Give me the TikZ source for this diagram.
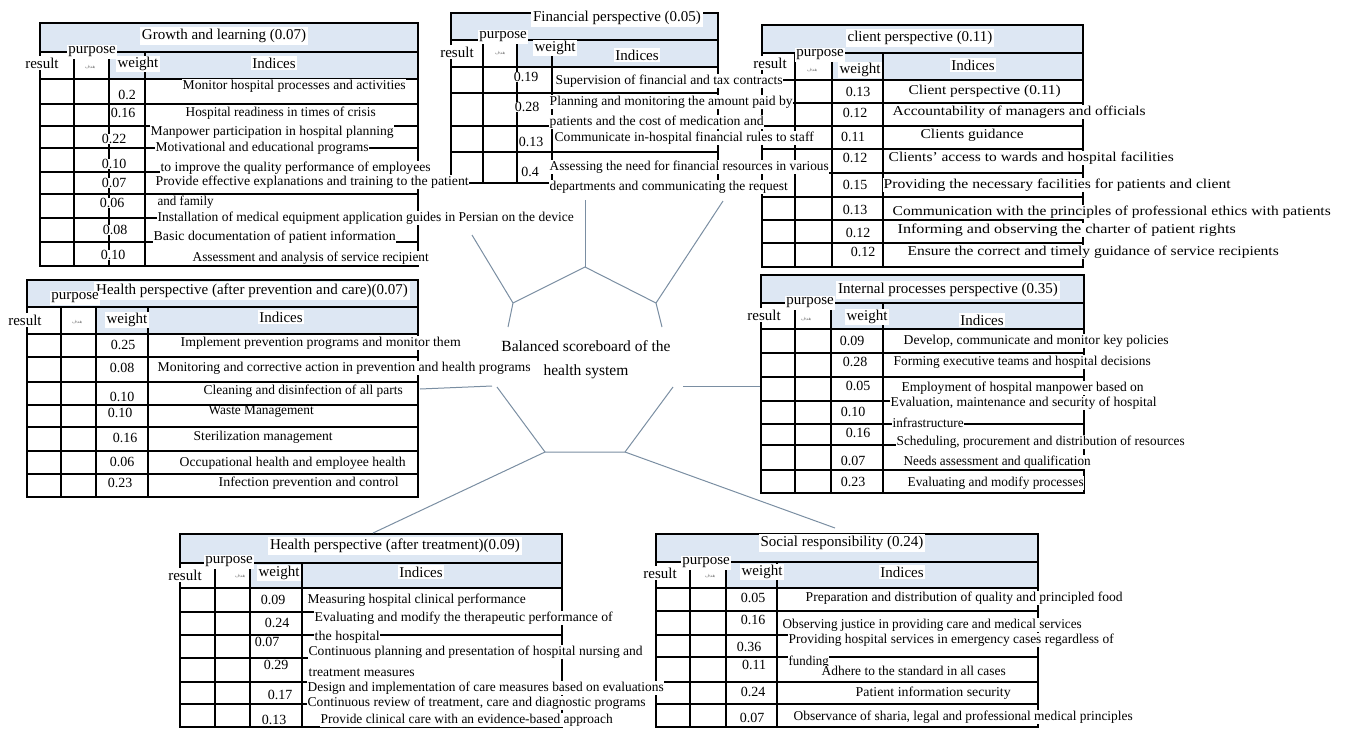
\documentclass[tikz,border=0pt]{standalone}
\usepackage{fontspec}
\usepackage{graphicx}
\setmainfont{Liberation Serif}
\newfontfamily\arabicfont[Script=Arabic]{DejaVu Sans}
\TeXXeTstate=1
\definecolor{bandblue}{RGB}{221,231,243}
\definecolor{spokegray}{RGB}{122,142,162}
\newcommand{\fitw}[2]{\resizebox{#1pt}{\height}{#2}}
\tikzset{
  gridline/.style={line width=1.6pt},
  bandfill/.style={fill=bandblue},
  tabtitle/.style={fill=white, inner sep=2pt, font=\fontsize{15}{16}\selectfont},
  colhead/.style={fill=white, inner sep=1.5pt, font=\fontsize{15}{16}\selectfont},
  wval/.style={fill=white, inner sep=0.5pt, font=\fontsize{14}{15}\selectfont},
  idx/.style={anchor=west, fill=white, inner sep=0.5pt, font=\fontsize{13.5}{14}\selectfont},
  goal/.style={inner sep=0pt, text=gray, font=\arabicfont\fontsize{5}{5}\selectfont},
  spoke/.style={draw=spokegray, line width=1pt},
  hub/.style={align=center, font=\fontsize{15.5}{24}\selectfont}
}
\begin{document}
\begin{tikzpicture}[x=1pt,y=-1pt]
\useasboundingbox (0,0) rectangle (1346,729);

% ---- table frames ----
% growth and learning
\fill[bandfill] (40,23) rectangle (418,52);
\fill[bandfill] (109,52) rectangle (418,79);
\draw[gridline] (40,23) rectangle (418,266) (40,52) -- (418,52);
\foreach \x in {74,109,145} \draw[gridline] (\x,52) -- (\x,266);
\foreach \y in {79,104,126,148,172,194,218,242} \draw[gridline] (40,\y) -- (418,\y);
% financial
\fill[bandfill] (451,13) rectangle (718,40);
\fill[bandfill] (517,40) rectangle (718,67);
\draw[gridline] (451,13) rectangle (718,183) (451,40) -- (718,40);
\foreach \x in {483,517,552} \draw[gridline] (\x,40) -- (\x,183);
\foreach \y in {67,93,126,152} \draw[gridline] (451,\y) -- (718,\y);
% client
\fill[bandfill] (762,25) rectangle (1083,53);
\fill[bandfill] (832,53) rectangle (1083,80);
\draw[gridline] (762,25) rectangle (1083,267) (762,53) -- (1083,53);
\foreach \x in {795,832,883} \draw[gridline] (\x,53) -- (\x,267);
\foreach \y in {80,103,126,149,173,197,220,243} \draw[gridline] (762,\y) -- (1083,\y);
% health after prevention and care
\fill[bandfill] (27,280) rectangle (418,307);
\fill[bandfill] (96,307) rectangle (418,334);
\draw[gridline] (27,280) rectangle (418,497) (27,307) -- (418,307);
\foreach \x in {61,96,148} \draw[gridline] (\x,307) -- (\x,497);
\foreach \y in {334,357,382,405,427,451,474} \draw[gridline] (27,\y) -- (418,\y);
% internal processes
\fill[bandfill] (761,275) rectangle (1084,303);
\fill[bandfill] (831,303) rectangle (1084,329);
\draw[gridline] (761,275) rectangle (1084,493) (761,303) -- (1084,303);
\foreach \x in {795,831,883} \draw[gridline] (\x,303) -- (\x,493);
\foreach \y in {329,353,377,401,424,445,470} \draw[gridline] (761,\y) -- (1084,\y);
% health after treatment
\fill[bandfill] (180,534) rectangle (562,563);
\fill[bandfill] (250,563) rectangle (562,588);
\draw[gridline] (180,534) rectangle (562,727) (180,563) -- (562,563);
\foreach \x in {215,250,302} \draw[gridline] (\x,563) -- (\x,727);
\foreach \y in {588,612,635,658,682,704} \draw[gridline] (180,\y) -- (562,\y);
% social responsibility
\fill[bandfill] (656,534) rectangle (1038,562);
\fill[bandfill] (726,562) rectangle (1038,588);
\draw[gridline] (656,534) rectangle (1038,727) (656,562) -- (1038,562);
\foreach \x in {690,726,777} \draw[gridline] (\x,562) -- (\x,727);
\foreach \y in {588,611,635,657,682,704} \draw[gridline] (656,\y) -- (1038,\y);

% ---- centre ----
\node[hub] (hub) at (586,360) {Balanced scoreboard of the\\health system};
\coordinate (vA) at (585,267);
\coordinate (vB) at (513,303);
\coordinate (vC) at (656,303);
\coordinate (gB) at (508,327);
\coordinate (gC) at (662,327);
\coordinate (gL) at (497,387);
\coordinate (gR) at (673,387);
\coordinate (vD) at (545,452);
\coordinate (vE) at (625,452);
\coordinate (sA) at (585,200);
\coordinate (sB) at (472,235);
\coordinate (sC) at (723,201);
\coordinate (sL) at (420,389);
\coordinate (eL) at (492,386);
\coordinate (eR) at (683,386);
\coordinate (sR) at (760,386);
\coordinate (sD) at (373,533);
\coordinate (sE) at (835,528);
\draw[spoke] (gB) -- (vB) -- (vA) -- (vC) -- (gC);
\draw[spoke] (gL) -- (vD) -- (vE) -- (gR);
\draw[spoke] (vA) -- (sA);
\draw[spoke] (vB) -- (sB);
\draw[spoke] (vC) -- (sC);
\draw[spoke] (vD) -- (sD);
\draw[spoke] (vE) -- (sE);
\draw[spoke] (sL) -- (eL);
\draw[spoke] (eR) -- (sR);

% ---- growth and learning ----
\node[tabtitle] (gl-title) at (224,36) {Growth and learning (0.07)};
\node[colhead] (gl-res) at (42,63) {result};
\node[colhead] (gl-pur) at (92,52) {purpose};
\node[goal] (gl-goal) at (90,67) {\beginR هدف\endR};
\node[colhead] (gl-wt) at (138,64) {weight};
\node[colhead] (gl-ind) at (274,63) {Indices};
\node[wval] (gl-w1) at (127,95) {0.2};
\node[wval] (gl-w2) at (123,113) {0.16};
\node[wval] (gl-w3) at (114,139) {0.22};
\node[wval] (gl-w4) at (114,164) {0.10};
\node[wval] (gl-w5) at (114,183) {0.07};
\node[wval] (gl-w6) at (112,203) {0.06};
\node[wval] (gl-w7) at (115,230) {0.08};
\node[wval] (gl-w8) at (113,255) {0.10};
\node[idx] (gl-i1) at (182,86) {\fitw{223}{Monitor hospital processes and activities}};
\node[idx] (gl-i2) at (185,113) {\fitw{190}{Hospital readiness in times of crisis}};
\node[idx] (gl-i3) at (150,132) {\fitw{243}{Manpower participation in hospital planning}};
\node[idx] (gl-i4) at (155,148) {\fitw{213}{Motivational and educational programs}};
\node[idx] (gl-i4b) at (160,168) {\fitw{270}{to improve the quality performance of employees}};
\node[idx] (gl-i5) at (155,182) {\fitw{313}{Provide effective explanations and training to the patient}};
\node[idx] (gl-i5b) at (157,202) {\fitw{56}{and family}};
\node[idx] (gl-i6) at (157,218) {\fitw{416}{Installation of medical equipment application guides in Persian on the device}};
\node[idx] (gl-i7) at (153,237) {\fitw{242}{Basic documentation of patient information}};
\node[idx] (gl-i8) at (192,258) {\fitw{236}{Assessment and analysis of service recipient}};

% ---- financial ----
\node[tabtitle] (fin-title) at (617,18) {Financial perspective (0.05)};
\node[colhead] (fin-res) at (457,52) {result};
\node[colhead] (fin-pur) at (503,37) {purpose};
\node[goal] (fin-goal) at (500,53) {\beginR هدف\endR};
\node[colhead] (fin-wt) at (555,48) {weight};
\node[colhead] (fin-ind) at (637,55) {Indices};
\node[wval] (fin-w1) at (526,77) {0.19};
\node[wval] (fin-w2) at (527,107) {0.28};
\node[wval] (fin-w3) at (531,142) {0.13};
\node[wval] (fin-w4) at (530,172) {0.4};
\node[idx] (fin-i1) at (555,81) {\fitw{227}{Supervision of financial and tax contracts}};
\node[idx] (fin-i2) at (549,102) {\fitw{243}{Planning and monitoring the amount paid by}};
\node[idx] (fin-i2b) at (549,122) {\fitw{214}{patients and the cost of medication and}};
\node[idx] (fin-i3) at (554,138) {\fitw{259}{Communicate in-hospital financial rules to staff}};
\node[idx] (fin-i4) at (549,167) {\fitw{279}{Assessing the need for financial resources in various}};
\node[idx] (fin-i4b) at (549,187) {\fitw{238}{departments and communicating the request}};

% ---- client ----
\node[tabtitle] (cli-title) at (920,38) {client perspective (0.11)};
\node[colhead] (cli-res) at (770,63) {result};
\node[colhead] (cli-pur) at (820,55) {purpose};
\node[goal] (cli-goal) at (812,70) {\beginR هدف\endR};
\node[colhead] (cli-wt) at (860,70) {weight};
\node[colhead] (cli-ind) at (973,65) {Indices};
\node[wval] (cli-w1) at (858,92) {0.13};
\node[wval] (cli-w2) at (855,113) {0.12};
\node[wval] (cli-w3) at (853,137) {0.11};
\node[wval] (cli-w4) at (855,158) {0.12};
\node[wval] (cli-w5) at (855,185) {0.15};
\node[wval] (cli-w6) at (855,210) {0.13};
\node[wval] (cli-w7) at (858,233) {0.12};
\node[wval] (cli-w8) at (863,252) {0.12};
\node[idx] (cli-i1) at (908,91) {\fitw{152}{Client perspective (0.11)}};
\node[idx] (cli-i2) at (892,112) {\fitw{253}{Accountability of managers and officials}};
\node[idx] (cli-i3) at (920,135) {\fitw{103}{Clients guidance}};
\node[idx] (cli-i4) at (888,158) {\fitw{285}{Clients' access to wards and hospital facilities}};
\node[idx] (cli-i5) at (883,185) {\fitw{347}{Providing the necessary facilities for patients and client}};
\node[idx] (cli-i6) at (892,212) {\fitw{438}{Communication with the principles of professional ethics with patients}};
\node[idx] (cli-i7) at (897,230) {\fitw{338}{Informing and observing the charter of patient rights}};
\node[idx] (cli-i8) at (907,252) {\fitw{371}{Ensure the correct and timely guidance of service recipients}};

% ---- health after prevention and care ----
\node[tabtitle] (hpc-title) at (252,291) {Health perspective (after prevention and care)(0.07)};
\node[colhead] (hpc-res) at (25,320) {result};
\node[colhead] (hpc-pur) at (75,298) {purpose};
\node[goal] (hpc-goal) at (77,322) {\beginR هدف\endR};
\node[colhead] (hpc-wt) at (127,320) {weight};
\node[colhead] (hpc-ind) at (281,317) {Indices};
\node[wval] (hpc-w1) at (123,345) {0.25};
\node[wval] (hpc-w2) at (122,368) {0.08};
\node[wval] (hpc-w3) at (122,397) {0.10};
\node[wval] (hpc-w4) at (120,413) {0.10};
\node[wval] (hpc-w5) at (125,438) {0.16};
\node[wval] (hpc-w6) at (122,462) {0.06};
\node[wval] (hpc-w7) at (120,483) {0.23};
\node[idx] (hpc-i1) at (180,343) {\fitw{280}{Implement prevention programs and monitor them}};
\node[idx] (hpc-i2) at (157,368) {\fitw{373}{Monitoring and corrective action in prevention and health programs}};
\node[idx] (hpc-i3) at (203,391) {\fitw{199}{Cleaning and disinfection of all parts}};
\node[idx] (hpc-i4) at (208,412) {\fitw{105}{Waste Management}};
\node[idx] (hpc-i5) at (193,437) {\fitw{139}{Sterilization management}};
\node[idx] (hpc-i6) at (179,463) {\fitw{226}{Occupational health and employee health}};
\node[idx] (hpc-i7) at (218,483) {\fitw{180}{Infection prevention and control}};

% ---- internal processes ----
\node[tabtitle] (ipp-title) at (948,290) {Internal processes perspective (0.35)};
\node[colhead] (ipp-res) at (764,315) {result};
\node[colhead] (ipp-pur) at (810,303) {purpose};
\node[goal] (ipp-goal) at (806,319) {\beginR هدف\endR};
\node[colhead] (ipp-wt) at (867,317) {weight};
\node[colhead] (ipp-ind) at (982,320) {Indices};
\node[wval] (ipp-w1) at (852,341) {0.09};
\node[wval] (ipp-w2) at (855,362) {0.28};
\node[wval] (ipp-w3) at (858,386) {0.05};
\node[wval] (ipp-w4) at (853,412) {0.10};
\node[wval] (ipp-w5) at (858,433) {0.16};
\node[wval] (ipp-w6) at (853,461) {0.07};
\node[wval] (ipp-w7) at (853,482) {0.23};
\node[idx] (ipp-i1) at (903,341) {\fitw{265}{Develop, communicate and monitor key policies}};
\node[idx] (ipp-i2) at (893,362) {\fitw{257}{Forming executive teams and hospital decisions}};
\node[idx] (ipp-i3) at (901,388) {\fitw{242}{Employment of hospital manpower based on}};
\node[idx] (ipp-i4) at (890,403) {\fitw{266}{Evaluation, maintenance and security of hospital}};
\node[idx] (ipp-i4b) at (892,423) {\fitw{71}{infrastructure}};
\node[idx] (ipp-i5) at (896,442) {\fitw{288}{Scheduling, procurement and distribution of resources}};
\node[idx] (ipp-i6) at (903,462) {\fitw{187}{Needs assessment and qualification}};
\node[idx] (ipp-i7) at (907,483) {\fitw{176}{Evaluating and modify processes}};

% ---- health after treatment ----
\node[tabtitle] (hat-title) at (395,546) {Health perspective (after treatment)(0.09)};
\node[colhead] (hat-res) at (185,575) {result};
\node[colhead] (hat-pur) at (229,562) {purpose};
\node[goal] (hat-goal) at (240,576) {\beginR هدف\endR};
\node[colhead] (hat-wt) at (279,573) {weight};
\node[colhead] (hat-ind) at (421,572) {Indices};
\node[wval] (hat-w1) at (273,600) {0.09};
\node[wval] (hat-w2) at (277,623) {0.24};
\node[wval] (hat-w3) at (267,642) {0.07};
\node[wval] (hat-w4) at (276,665) {0.29};
\node[wval] (hat-w5) at (280,695) {0.17};
\node[wval] (hat-w6) at (274,720) {0.13};
\node[idx] (hat-i1) at (307,600) {\fitw{218}{Measuring hospital clinical performance}};
\node[idx] (hat-i2) at (314,618) {\fitw{298}{Evaluating and modify the therapeutic performance of}};
\node[idx] (hat-i2b) at (314,637) {\fitw{65}{the hospital}};
\node[idx] (hat-i3) at (308,652) {\fitw{334}{Continuous planning and presentation of hospital nursing and}};
\node[idx] (hat-i3b) at (308,673) {\fitw{106}{treatment measures}};
\node[idx] (hat-i4) at (307,688) {\fitw{356}{Design and implementation of care measures based on evaluations}};
\node[idx] (hat-i5) at (307,703) {\fitw{338}{Continuous review of treatment, care and diagnostic programs}};
\node[idx] (hat-i6) at (320,720) {\fitw{292}{Provide clinical care with an evidence-based approach}};

% ---- social responsibility ----
\node[tabtitle] (soc-title) at (842,543) {Social responsibility (0.24)};
\node[colhead] (soc-res) at (660,573) {result};
\node[colhead] (soc-pur) at (706,563) {purpose};
\node[goal] (soc-goal) at (710,576) {\beginR هدف\endR};
\node[colhead] (soc-wt) at (762,572) {weight};
\node[colhead] (soc-ind) at (902,572) {Indices};
\node[wval] (soc-w1) at (753,598) {0.05};
\node[wval] (soc-w2) at (753,620) {0.16};
\node[wval] (soc-w3) at (749,647) {0.36};
\node[wval] (soc-w4) at (754,665) {0.11};
\node[wval] (soc-w5) at (753,692) {0.24};
\node[wval] (soc-w6) at (752,718) {0.07};
\node[idx] (soc-i1) at (805,598) {\fitw{317}{Preparation and distribution of quality and principled food}};
\node[idx] (soc-i2) at (782,625) {\fitw{299}{Observing justice in providing care and medical services}};
\node[idx] (soc-i3) at (788,640) {\fitw{325}{Providing hospital services in emergency cases regardless of}};
\node[idx] (soc-i3b) at (788,662) {\fitw{40}{funding}};
\node[idx] (soc-i4) at (821,671) {\fitw{184}{Adhere to the standard in all cases}};
\node[idx] (soc-i5) at (855,693) {\fitw{155}{Patient information security}};
\node[idx] (soc-i6) at (793,717) {\fitw{339}{Observance of sharia, legal and professional medical principles}};
\end{tikzpicture}
\end{document}
